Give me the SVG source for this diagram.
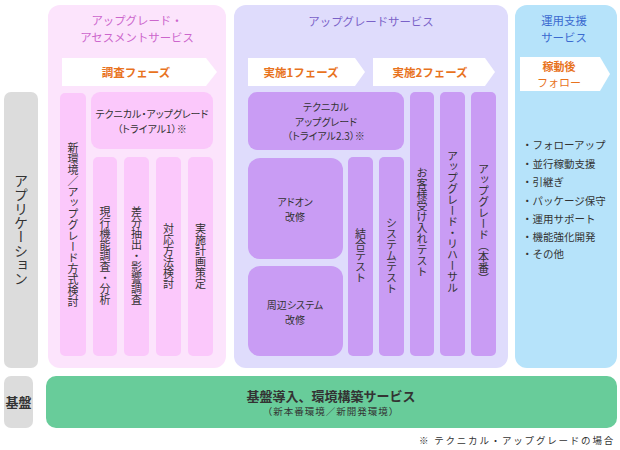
<svg xmlns="http://www.w3.org/2000/svg" width="620" height="450" viewBox="0 0 620 450">
<style>
text{font-family:"Noto Sans CJK JP","Noto Sans",sans-serif;fill:#333}
.v{writing-mode:vertical-rl;text-anchor:middle;font-size:11px}
.c{text-anchor:middle}
.ph{fill:#e8731e;font-size:11.5px;font-weight:bold;text-anchor:middle}
.hd{font-size:11.4px;text-anchor:middle}
.pk{fill:#fbc8fb}
.pu{fill:#c99cf4}
.arr{fill:#ffffff}
.sm{font-size:10px;font-feature-settings:"palt"}
.li{font-size:10.5px}
</style>
<rect width="620" height="450" fill="#ffffff"/>
<g id="label-app">
<rect x="4" y="92" width="34" height="276" rx="7" fill="#dcdcdc"/>
<text class="v" x="21" y="230" style="font-size:14px">アプリケーション</text>
</g>
<g id="label-kiban">
<rect x="4" y="376" width="29" height="52" rx="7" fill="#dcdcdc"/>
<text class="c" x="18.5" y="407" style="font-size:13px;font-weight:bold">基盤</text>
</g>
<g id="assessment">
<rect x="48" y="5" width="178" height="363" rx="12" fill="#fce4fc"/>
<text class="hd" x="137" y="25" style="fill:#cc66cc">アップグレード・</text>
<text class="hd" x="137" y="41.5" style="fill:#cc66cc">アセスメントサービス</text>
<polygon class="arr" points="62,58 206,58 217,72 206,86 62,86"/>
<text class="ph" x="136" y="76.5">調査フェーズ</text>
<g id="a-new"><rect class="pk" x="60" y="93" width="26" height="263" rx="5"/><text class="v" x="73" y="225">新環境／アップグレード方式検討</text></g>
<g id="a-tech"><rect class="pk" x="91" y="92" width="122" height="57" rx="9"/><text class="c sm" x="152" y="118">テクニカル・アップグレード</text><text class="c sm" x="152" y="133">（トライアル1）※</text></g>
<g id="a-col1"><rect class="pk" x="93" y="157" width="24" height="199" rx="5"/><text class="v" x="105" y="256">現行機能調査・分析</text></g>
<g id="a-col2"><rect class="pk" x="124" y="157" width="25" height="199" rx="5"/><text class="v" x="136.5" y="256">差分抽出・影響調査</text></g>
<g id="a-col3"><rect class="pk" x="156" y="157" width="25" height="199" rx="5"/><text class="v" x="168.5" y="256">対応方法検討</text></g>
<g id="a-col4"><rect class="pk" x="188" y="157" width="25" height="199" rx="5"/><text class="v" x="200.5" y="256">実施計画策定</text></g>
</g>
<g id="upgrade">
<rect x="234" y="5" width="274" height="363" rx="12" fill="#dfdcfc"/>
<text class="hd" x="371" y="26" style="fill:#7a62c8">アップグレードサービス</text>
<polygon class="arr" points="248,58 355,58 365,72 355,86 248,86"/>
<text class="ph" x="301" y="76.5">実施1フェーズ</text>
<polygon class="arr" points="373,58 485,58 495,72 485,86 373,86"/>
<text class="ph" x="430" y="76.5">実施2フェーズ</text>
<g id="u-tech"><rect class="pu" x="248" y="92" width="156" height="58" rx="9"/><text class="c sm" x="326" y="111">テクニカル</text><text class="c sm" x="326" y="125.5">アップグレード</text><text class="c sm" x="326" y="140">（トライアル2.3）※</text></g>
<g id="u-addon"><rect class="pu" x="248" y="158" width="95" height="101" rx="12"/><text class="c sm" x="295" y="206">アドオン</text><text class="c sm" x="295" y="221">改修</text></g>
<g id="u-periph"><rect class="pu" x="248" y="266" width="95" height="90" rx="12"/><text class="c sm" x="295" y="309">周辺システム</text><text class="c sm" x="295" y="324">改修</text></g>
<g id="u-it"><rect class="pu" x="348" y="157" width="25" height="199" rx="5"/><text class="v" x="360.5" y="256">結合テスト</text></g>
<g id="u-st"><rect class="pu" x="379" y="157" width="25" height="199" rx="5"/><text class="v" x="391.5" y="256">システムテスト</text></g>
<g id="u-uat"><rect class="pu" x="410" y="92" width="24" height="264" rx="5"/><text class="v" x="422" y="222">お客様受け入れテスト</text></g>
<g id="u-reh"><rect class="pu" x="440" y="92" width="25" height="264" rx="5"/><text class="v" x="452.5" y="222">アップグレード・リハーサル</text></g>
<g id="u-prod"><rect class="pu" x="471" y="92" width="25" height="264" rx="5"/><text class="v" x="483.5" y="224">アップグレード（本番）</text></g>
</g>
<g id="operation">
<rect x="515" y="5" width="102" height="363" rx="12" fill="#b6e3fa"/>
<text class="hd" x="564" y="25" style="fill:#3a6ad0">運用支援</text>
<text class="hd" x="564" y="41.5" style="fill:#3a6ad0">サービス</text>
<polygon class="arr" points="520,57 600,57 610,74 600,91 520,91"/>
<text class="ph" x="559" y="71" style="font-size:11px">稼動後</text>
<text class="ph" x="559" y="87" style="font-size:11px;font-weight:normal">フォロー</text>
<text class="li" x="522" y="149">・フォローアップ</text>
<text class="li" x="522" y="168">・並行稼動支援</text>
<text class="li" x="522" y="186">・引継ぎ</text>
<text class="li" x="522" y="205">・パッケージ保守</text>
<text class="li" x="522" y="223">・運用サポート</text>
<text class="li" x="522" y="241">・機能強化開発</text>
<text class="li" x="522" y="258">・その他</text>
</g>
<g id="infra">
<rect x="46" y="376" width="571" height="52" rx="10" fill="#68cc9a"/>
<text class="c" x="331" y="401" style="font-size:13px;font-weight:bold">基盤導入、環境構築サービス</text>
<text class="c" x="331" y="415" style="font-size:9.5px;letter-spacing:1px">（新本番環境／新開発環境）</text>
</g>
<g id="connectors"></g>
<text x="615" y="444" style="font-size:9.5px;letter-spacing:1.8px;text-anchor:end">※ テクニカル・アップグレードの場合</text>
</svg>
